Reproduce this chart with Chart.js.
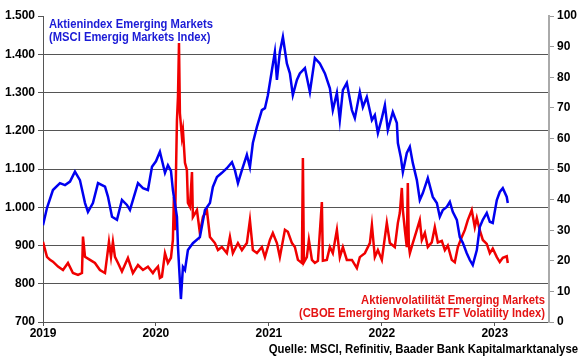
<!DOCTYPE html>
<html><head><meta charset="utf-8">
<script src="https://cdn.jsdelivr.net/npm/chart.js@4.4.0/dist/chart.umd.min.js"></script>
<style>html,body{margin:0;padding:0;background:#fff;}#c{display:block;}</style>
</head><body>
<canvas id="c" width="580" height="359"></canvas>
<script>
// MSCI Emerging Markets index (left axis), decimal years
const msciDates = [2019.000,2019.035,2019.088,2019.150,2019.195,2019.239,2019.283,2019.327,2019.372,2019.398,2019.442,2019.487,2019.549,2019.575,2019.611,2019.655,2019.699,2019.743,2019.770,2019.841,2019.885,2019.929,2019.965,2020.000,2020.035,2020.080,2020.106,2020.133,2020.150,2020.186,2020.195,2020.221,2020.239,2020.257,2020.283,2020.327,2020.389,2020.434,2020.478,2020.504,2020.540,2020.584,2020.628,2020.673,2020.699,2020.726,2020.761,2020.805,2020.832,2020.858,2020.894,2020.938,2020.965,2020.991,2021.027,2021.053,2021.071,2021.097,2021.124,2021.159,2021.186,2021.212,2021.248,2021.274,2021.319,2021.363,2021.407,2021.451,2021.496,2021.540,2021.566,2021.602,2021.628,2021.655,2021.690,2021.735,2021.761,2021.805,2021.832,2021.867,2021.912,2021.938,2021.965,2022.000,2022.027,2022.053,2022.097,2022.133,2022.142,2022.168,2022.186,2022.221,2022.248,2022.274,2022.310,2022.336,2022.363,2022.407,2022.451,2022.487,2022.513,2022.540,2022.575,2022.602,2022.628,2022.664,2022.690,2022.717,2022.752,2022.779,2022.805,2022.841,2022.867,2022.894,2022.929,2022.956,2022.982,2023.018,2023.044,2023.071,2023.106,2023.115];
const msciValues = [953,998,1045,1063,1058,1067,1093,1071,1011,988,1011,1063,1054,1028,975,967,1019,1006,993,1063,1050,1045,1106,1120,1145,1090,1110,1095,1045,975,896,760,844,836,888,906,922,993,1011,1053,1079,1090,1102,1118,1097,1063,1097,1137,1105,1168,1210,1254,1259,1293,1359,1406,1333,1406,1445,1376,1350,1293,1333,1350,1364,1301,1390,1376,1350,1311,1254,1299,1228,1306,1325,1254,1233,1301,1262,1288,1228,1241,1194,1233,1267,1202,1249,1220,1168,1131,1092,1142,1158,1116,1071,1019,1037,1076,1027,1011,975,993,1001,1014,988,967,922,907,880,862,849,888,948,967,985,962,959,1019,1040,1050,1027,1011];

// CBOE Emerging Markets ETF Volatility Index (right axis)
const vxDates = [2019.000,2019.035,2019.062,2019.088,2019.133,2019.177,2019.221,2019.265,2019.310,2019.345,2019.354,2019.372,2019.416,2019.460,2019.504,2019.549,2019.584,2019.602,2019.619,2019.637,2019.664,2019.699,2019.752,2019.796,2019.841,2019.885,2019.929,2019.973,2019.991,2020.018,2020.035,2020.053,2020.080,2020.106,2020.133,2020.150,2020.159,2020.168,2020.186,2020.195,2020.204,2020.212,2020.230,2020.239,2020.257,2020.274,2020.283,2020.301,2020.319,2020.327,2020.363,2020.389,2020.416,2020.451,2020.478,2020.522,2020.549,2020.584,2020.628,2020.655,2020.681,2020.726,2020.761,2020.805,2020.832,2020.858,2020.894,2020.938,2020.965,2021.009,2021.035,2021.071,2021.097,2021.142,2021.168,2021.204,2021.230,2021.257,2021.292,2021.301,2021.310,2021.336,2021.354,2021.381,2021.407,2021.434,2021.469,2021.478,2021.513,2021.540,2021.566,2021.602,2021.628,2021.655,2021.690,2021.735,2021.779,2021.805,2021.850,2021.894,2021.912,2021.938,2021.965,2022.000,2022.044,2022.071,2022.115,2022.142,2022.159,2022.177,2022.186,2022.204,2022.221,2022.230,2022.239,2022.248,2022.274,2022.310,2022.336,2022.354,2022.381,2022.407,2022.442,2022.469,2022.496,2022.531,2022.558,2022.584,2022.619,2022.646,2022.673,2022.708,2022.735,2022.761,2022.796,2022.823,2022.841,2022.867,2022.894,2022.929,2022.956,2022.982,2023.018,2023.044,2023.071,2023.106,2023.115];
const vxValues = [26.2,21.3,20.3,19.7,18.1,17.0,19.3,16.0,15.4,16.0,27.9,21.3,20.3,19.3,17.0,16.0,26.2,21.3,26.2,21.3,19.3,16.5,20.9,16.0,18.6,17.0,18.1,16.0,17.0,18.1,14.4,14.8,22.5,19.3,21.0,26.8,40.8,30.0,66.0,73.5,91.2,68.3,60.5,62.7,52.0,49.7,38.9,37.6,49.0,34.3,36.6,29.1,34.3,36.6,27.8,25.8,23.5,24.5,22.5,27.8,22.5,25.8,23.5,25.8,33.3,23.5,22.5,24.5,21.2,26.8,29.1,25.8,21.2,30.1,29.5,25.8,24.5,20.3,19.3,53.6,19.5,21.2,26.8,20.3,19.3,20.0,39.2,20.0,20.3,24.5,22.5,30.1,21.2,24.5,20.3,20.3,17.6,21.2,22.5,25.8,31.7,21.2,23.5,20.3,32.4,25.8,24.5,32.4,35.6,43.8,36.6,30.0,24.5,45.4,25.0,22.5,25.8,30.1,33.3,26.8,29.1,24.5,26.0,31.0,26.0,26.5,23.5,25.0,20.3,19.5,24.5,27.8,30.1,33.3,36.6,31.0,34.0,30.0,26.8,25.5,22.5,24.0,21.2,19.6,21.0,21.5,19.3];

const leftTickValues = [700,800,900,1000,1100,1200,1300,1400,1500];
const rightTickValues = [0,10,20,30,40,50,60,70,80,90,100];
const yearTicks = [2019,2020,2021,2022,2023];
const msciLabel = ['Aktienindex Emerging Markets', '(MSCI Emergig Markets Index)'];
const vxLabel = ['Aktienvolatilität Emerging Markets', '(CBOE Emerging Markets ETF Volatility Index)'];
const sourceText = 'Quelle: MSCI, Refinitiv, Baader Bank Kapitalmarktanalyse';

const FONT = '"Liberation Sans", Arial, sans-serif';
const BLUE = '#0000F0';
const RED = '#F00000';

// draw text condensed horizontally (reference font is narrow)
function condText(ctx, str, x, y, align, sx) {
  ctx.save();
  ctx.translate(x, y);
  ctx.scale(sx, 1);
  ctx.textAlign = align;
  ctx.fillText(str, 0, 0);
  ctx.restore();
}

const texts = {
  id: 'texts',
  afterDraw(chart) {
    const ctx = chart.ctx, a = chart.chartArea;
    ctx.save();
    ctx.font = 'bold 12px ' + FONT;
    ctx.textBaseline = 'middle';
    ctx.fillStyle = '#1A1AD6';
    condText(ctx, msciLabel[0], a.left + 6, 25, 'left', 0.935);
    condText(ctx, msciLabel[1], a.left + 6, 38, 'left', 0.935);
    ctx.fillStyle = '#E41414';
    condText(ctx, vxLabel[0], a.right - 4, 301, 'right', 0.935);
    condText(ctx, vxLabel[1], a.right - 4, 314, 'right', 0.935);
    ctx.fillStyle = '#000';
    condText(ctx, sourceText, 578, 350, 'right', 0.945);
    ctx.restore();
  }
};

const toXY = (xs, ys) => xs.map((x, i) => ({x, y: ys[i]}));

new Chart(document.getElementById('c'), {
  type: 'line',
  data: {
    datasets: [
      {data: toXY(msciDates, msciValues), yAxisID: 'y', borderColor: BLUE, borderWidth: 2.5, pointRadius: 0, tension: 0},
      {data: toXY(vxDates, vxValues), yAxisID: 'y1', borderColor: RED, borderWidth: 2.5, pointRadius: 0, tension: 0}
    ]
  },
  options: {
    responsive: false, animation: false, devicePixelRatio: 1,
    layout: {padding: {top: 16, left: 0, right: 0, bottom: 0}},
    plugins: {legend: {display: false}, tooltip: {enabled: false}},
    scales: {
      x: {
        type: 'linear', min: 2019, max: 2023.48,
        afterBuildTicks: s => { s.ticks = yearTicks.map(v => ({value: v})); },
        afterFit: s => { s.height = 37; },
        ticks: {color: '#000', font: {family: FONT, size: 12, weight: 'bold'}, padding: 0, maxRotation: 0, callback: v => String(v)},
        grid: {drawOnChartArea: false, drawTicks: true, tickLength: 4, tickColor: '#555'},
        border: {color: '#555', width: 1}
      },
      y: {
        position: 'left', min: 700, max: 1500,
        afterBuildTicks: s => { s.ticks = leftTickValues.map(v => ({value: v})); },
        afterFit: s => { s.width = 43; },
        ticks: {color: '#000', font: {family: FONT, size: 12, weight: 'bold'}, padding: 3, callback: v => v.toLocaleString('de-DE')},
        grid: {color: c => (c.tick && (c.tick.value === 1500 || c.tick.value === 700)) ? 'rgba(0,0,0,0)' : '#555', tickColor: '#555', tickLength: 5, lineWidth: 1},
        border: {color: '#555', width: 1}
      },
      y1: {
        position: 'right', min: 0, max: 100,
        afterBuildTicks: s => { s.ticks = rightTickValues.map(v => ({value: v})); },
        afterFit: s => { s.width = 31; },
        ticks: {color: '#000', font: {family: FONT, size: 12, weight: 'bold'}, padding: 3},
        grid: {drawOnChartArea: false, tickColor: '#999', tickLength: 5},
        border: {color: '#aaa', width: 2}
      }
    }
  },
  plugins: [texts]
});
</script>
</body></html>
